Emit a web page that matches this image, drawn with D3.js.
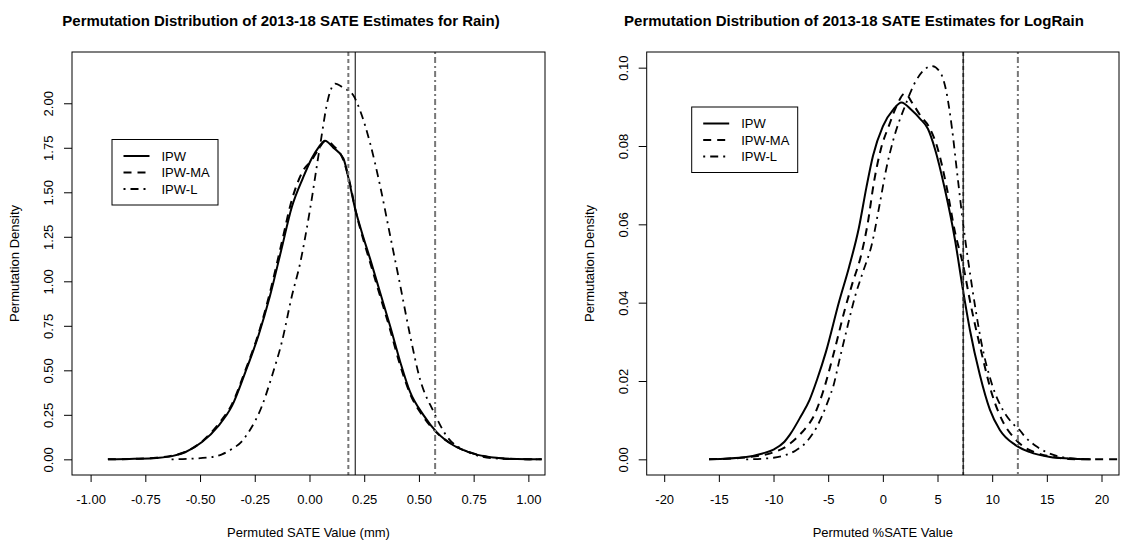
<!DOCTYPE html>
<html>
<head>
<meta charset="utf-8">
<script src="https://cdn.jsdelivr.net/npm/d3@7"></script>
<style>
  body { margin: 0; background: #fff; }
  text { font-family: "Liberation Sans", Arial, sans-serif; fill: #000; }
</style>
</head>
<body>
<svg id="chart" width="1140" height="542"></svg>
<script>
// [value, density] pairs
const rain_ipw = [[-0.921,0],[-0.8,0.003],[-0.7,0.008],[-0.628,0.018],[-0.568,0.04],[-0.491,0.097],[-0.415,0.19],[-0.354,0.30],[-0.293,0.49],[-0.232,0.70],[-0.18,0.92],[-0.13,1.17],[-0.08,1.42],[-0.03,1.58],[0.01,1.69],[0.04,1.75],[0.071,1.79],[0.109,1.75],[0.155,1.69],[0.185,1.54],[0.208,1.41],[0.238,1.28],[0.276,1.13],[0.322,0.94],[0.368,0.75],[0.414,0.55],[0.459,0.38],[0.52,0.25],[0.581,0.153],[0.657,0.079],[0.749,0.032],[0.84,0.01],[0.95,0.002],[1.061,0]];
const rain_ipw_ma = [[-0.921,0],[-0.8,0.003],[-0.7,0.009],[-0.628,0.02],[-0.568,0.042],[-0.491,0.10],[-0.415,0.20],[-0.354,0.31],[-0.293,0.50],[-0.232,0.71],[-0.18,0.94],[-0.13,1.2],[-0.08,1.46],[-0.03,1.62],[0.01,1.68],[0.04,1.74],[0.075,1.79],[0.11,1.76],[0.155,1.68],[0.185,1.55],[0.21,1.40],[0.24,1.26],[0.276,1.11],[0.322,0.92],[0.368,0.73],[0.414,0.53],[0.459,0.37],[0.52,0.24],[0.581,0.15],[0.657,0.08],[0.749,0.033],[0.84,0.01],[0.95,0.002],[1.061,0]];
const rain_ipw_l = [[-0.63,0],[-0.55,0.003],[-0.446,0.013],[-0.4,0.028],[-0.354,0.058],[-0.31,0.10],[-0.278,0.153],[-0.217,0.30],[-0.171,0.47],[-0.126,0.66],[-0.08,0.92],[-0.043,1.10],[0.002,1.40],[0.048,1.76],[0.086,2.03],[0.117,2.11],[0.155,2.086],[0.20,2.045],[0.231,1.96],[0.276,1.78],[0.322,1.54],[0.368,1.26],[0.414,0.98],[0.459,0.70],[0.505,0.45],[0.566,0.27],[0.627,0.13],[0.718,0.045],[0.84,0.006],[0.95,0.001],[1.061,0]];

const lograin_ipw = [[-15.9,0],[-12.5,0.0006],[-11,0.0015],[-10,0.0025],[-9,0.0045],[-8.5,0.0063],[-7.5,0.011],[-6.7,0.0152],[-6,0.0205],[-5.2,0.0275],[-4,0.0403],[-3.1,0.049],[-2.2,0.059],[-1.5,0.0695],[-0.9,0.0775],[0,0.085],[1,0.0895],[1.7,0.0911],[2.65,0.0891],[3.39,0.087],[4.12,0.0844],[4.76,0.0793],[5.67,0.069],[6.59,0.0562],[7.32,0.0434],[7.96,0.0331],[8.87,0.0216],[9.79,0.0127],[10.7,0.0075],[12.1,0.0037],[13.4,0.0019],[15.3,0.0006],[17,0.0002],[19,0]];
const lograin_ipw_ma = [[-15.9,0],[-12.5,0.0005],[-10,0.0018],[-9,0.003],[-8,0.0052],[-7,0.0082],[-6.4,0.0106],[-5.5,0.017],[-4.5,0.027],[-3.5,0.038],[-2.8,0.0448],[-2,0.052],[-1.4,0.06],[-0.8,0.071],[-0.2,0.079],[0.6,0.0855],[1.3,0.0905],[2,0.0934],[2.8,0.0905],[3.5,0.0875],[4.2,0.085],[5,0.0795],[5.8,0.07],[6.6,0.058],[7.35,0.0495],[8,0.04],[9,0.0275],[10,0.0165],[11,0.0095],[12,0.0055],[13,0.003],[14,0.0017],[15,0.0009],[16,0.0004],[17,0.0001],[19,0],[21.6,0]];
const lograin_ipw_l = [[-12.5,0],[-10,0.0004],[-9,0.001],[-8,0.0022],[-7,0.0044],[-6,0.0085],[-5,0.015],[-4.5,0.019],[-4,0.025],[-3.4,0.032],[-2.5,0.042],[-1.8,0.048],[-1,0.055],[-0.3,0.065],[0.3,0.074],[1,0.082],[2,0.09],[3,0.0965],[3.8,0.0995],[4.5,0.1004],[5.2,0.099],[5.8,0.094],[6.3,0.085],[6.8,0.073],[7.35,0.06],[8,0.047],[8.5,0.038],[9,0.03],[10,0.019],[11,0.0125],[12,0.0088],[12.5,0.0075],[13,0.0058],[14,0.0034],[15,0.0018],[16,0.0008],[17,0.0003],[18,0.0001],[19,0]];

// observed estimates (vertical reference lines)
const rain_obs = [0.1775, 0.209, 0.574];      // IPW-MA, IPW, IPW-L
const lograin_obs = [7.35, 7.35, 12.35];

const series_names = ["IPW", "IPW-MA", "IPW-L"];
const rain_xticks = [-1, -0.75, -0.5, -0.25, 0, 0.25, 0.5, 0.75, 1];
const rain_yticks = [0, 0.25, 0.5, 0.75, 1, 1.25, 1.5, 1.75, 2];
const lograin_xticks = [-20, -15, -10, -5, 0, 5, 10, 15, 20];
const lograin_yticks = [0, 0.02, 0.04, 0.06, 0.08, 0.1];

const dash_styles = [null, "8,6", "2,5,8,5"];
const ref_styles = [
  { dash: "4,3", color: "#777", width: 2 },
  { dash: null, color: "#000", width: 1 },
  { dash: "2,3,6,3", color: "#777", width: 2 },
];

// R prints a plain hyphen for negatives
const fmt = spec => d => d3.format(spec)(d).replace("\u2212", "-");

const svg = d3.select("#chart");

function panel(opts) {
  const x = d3.scaleLinear().domain(opts.xdom).range([opts.left, opts.right]);
  const y = d3.scaleLinear().domain(opts.ydom).range([475, 52]);
  const g = svg.append("g");

  g.append("text")
    .attr("x", opts.titleX).attr("y", 26)
    .attr("text-anchor", "middle")
    .style("font-size", "15px").style("font-weight", "bold")
    .text(opts.title);

  // x axis
  const xa = g.append("g").attr("transform", "translate(0,475)")
    .call(d3.axisBottom(x).tickValues(opts.xticks).tickFormat(opts.xfmt).tickSize(7).tickPadding(13));
  xa.select(".domain").remove();
  xa.selectAll("text").style("font-size", "13px").style("font-family", "Liberation Sans, Arial, sans-serif");
  xa.selectAll("line").attr("stroke", "#000");

  // y axis, labels rotated like base R
  const ya = g.append("g").attr("transform", `translate(${opts.left},0)`)
    .call(d3.axisLeft(y).tickValues(opts.yticks).tickFormat(opts.yfmt).tickSize(8));
  ya.select(".domain").remove();
  ya.selectAll("line").attr("stroke", "#000");
  ya.selectAll("text")
    .attr("x", 0).attr("dy", 0)
    .attr("text-anchor", "middle")
    .attr("transform", "translate(-19,0) rotate(-90)")
    .style("font-size", "13px").style("font-family", "Liberation Sans, Arial, sans-serif");

  g.append("text")
    .attr("transform", `translate(${opts.left - 53},${(52 + 475) / 2}) rotate(-90)`)
    .attr("text-anchor", "middle")
    .style("font-size", "13px")
    .text("Permutation Density");

  g.append("text")
    .attr("x", (opts.left + opts.right) / 2).attr("y", 537)
    .attr("text-anchor", "middle")
    .style("font-size", "13px")
    .text(opts.xlabel);

  const line = d3.line()
    .x(d => x(d[0])).y(d => y(d[1]))
    .curve(d3.curveMonotoneX);

  opts.series.forEach((s, i) => {
    g.append("path")
      .datum(s)
      .attr("d", line)
      .attr("fill", "none")
      .attr("stroke", "#000")
      .attr("stroke-width", i === 2 ? 1.8 : 2)
      .attr("stroke-dasharray", dash_styles[i]);
  });

  opts.obs.forEach((v, i) => {
    const st = ref_styles[i];
    g.append("line")
      .attr("x1", x(v)).attr("x2", x(v))
      .attr("y1", 52).attr("y2", 475)
      .attr("stroke", st.color)
      .attr("stroke-width", st.width)
      .attr("stroke-dasharray", st.dash);
  });

  g.append("rect")
    .attr("x", opts.left).attr("y", 52)
    .attr("width", opts.right - opts.left).attr("height", 475 - 52)
    .attr("fill", "none").attr("stroke", "#000");

  // legend
  const lg = g.append("g");
  lg.append("rect")
    .attr("x", opts.legend.x).attr("y", opts.legend.y)
    .attr("width", 106).attr("height", 65.5)
    .attr("fill", "#fff").attr("stroke", "#000");
  series_names.forEach((name, i) => {
    const cy = opts.legend.y + 16.5 + i * 16.5;
    lg.append("line")
      .attr("x1", opts.legend.x + 11.5).attr("x2", opts.legend.x + 37.5)
      .attr("y1", cy).attr("y2", cy)
      .attr("stroke", "#000").attr("stroke-width", 2)
      .attr("stroke-dasharray", dash_styles[i]);
    lg.append("text")
      .attr("x", opts.legend.x + 49.5).attr("y", cy + 4.5)
      .style("font-size", "13px")
      .text(name);
  });
}

panel({
  left: 72, right: 545,
  xdom: [-1.085, 1.076], ydom: [-0.088, 2.288],
  xticks: rain_xticks, yticks: rain_yticks,
  xfmt: fmt(".2f"), yfmt: fmt(".2f"),
  title: "Permutation Distribution of 2013-18 SATE Estimates for Rain)",
  titleX: 281,
  xlabel: "Permuted SATE Value (mm)",
  series: [rain_ipw, rain_ipw_ma, rain_ipw_l],
  obs: rain_obs,
  legend: { x: 112, y: 139.5 },
});

panel({
  left: 646.7, right: 1119,
  xdom: [-21.6, 21.6], ydom: [-0.004, 0.104],
  xticks: lograin_xticks, yticks: lograin_yticks,
  xfmt: fmt("d"), yfmt: fmt(".2f"),
  title: "Permutation Distribution of 2013-18 SATE Estimates for LogRain",
  titleX: 854,
  xlabel: "Permuted %SATE Value",
  series: [lograin_ipw, lograin_ipw_ma, lograin_ipw_l],
  obs: lograin_obs,
  legend: { x: 691.7, y: 107 },
});
</script>
</body>
</html>
